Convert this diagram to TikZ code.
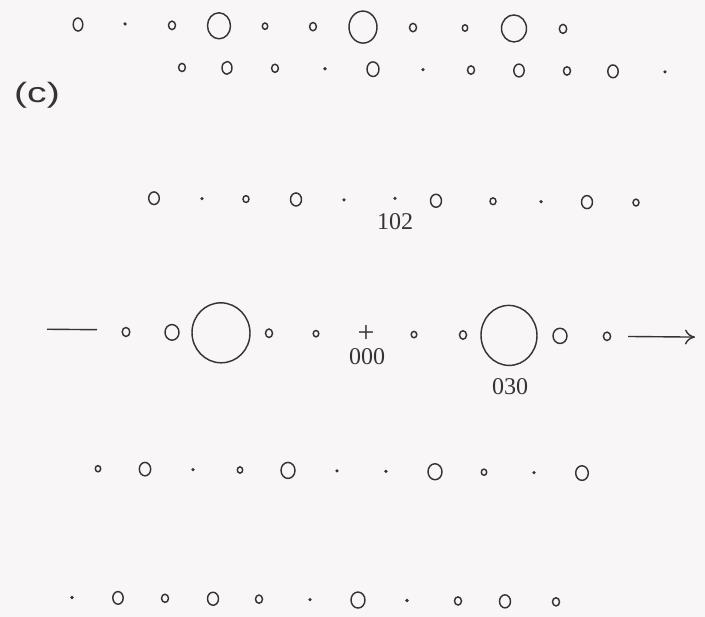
\documentclass[tikz,border=0pt]{standalone}
\usepackage{fontspec}
\usepackage{graphicx}
\setmainfont{Liberation Serif}
\newfontfamily\labsans{Liberation Sans}
\usetikzlibrary{arrows.meta}
\definecolor{ink}{RGB}{55,50,53}
\definecolor{paper}{RGB}{249,246,248}
\newcommand\spt[4]{\draw[spot] (#1,#2) ellipse [x radius=#3pt, y radius=#4pt];}
\newcommand\dotspot[2]{\fill[ink] (#1,#2) circle [radius=1.8pt];}
\begin{document}
\begin{tikzpicture}[x=1pt,y=-1pt,
  spot/.style={draw=ink,line width=1.45pt},
  lab/.style={inner sep=0pt,text=ink,font=\fontsize{24}{24}\selectfont},
  clab/.style={inner sep=0pt,text=ink,font=\labsans\fontsize{28}{28}\selectfont},
  conn/.style={draw=ink,line width=1.4pt}]
\fill[paper] (0,0) rectangle (705,617);
\useasboundingbox (0,0) rectangle (705,617);
\begin{scope}[yslant=-0.009,shift={(0,3.17pt)}]
% row 1
\spt{78}{27}{4.8}{6.5}
\dotspot{125}{26}
\spt{172}{27}{3.5}{4.2}
\spt{219}{27}{11.5}{13}
\spt{265}{27}{2.7}{3.2}
\spt{313}{27}{3.4}{4.1}
\spt{363}{27}{14}{16}
\spt{413}{27}{3.5}{4.2}
\spt{465}{27}{2.7}{3.2}
\spt{514}{27}{12.5}{13.5}
\spt{563}{27}{3.7}{4.5}
% row 2
\spt{182}{69}{3.4}{4.1}
\spt{227}{69}{5}{6.3}
\spt{275}{69}{3.4}{4.1}
\dotspot{325}{69}
\spt{373}{69}{6}{7.3}
\dotspot{423}{69}
\spt{471}{69}{3.5}{4.2}
\spt{519}{69}{5.2}{6.4}
\spt{567}{69}{3.5}{4.2}
\spt{613}{69}{5.2}{6.4}
\dotspot{665}{69}
% row 3
\spt{154}{200}{5.3}{6.3}
\dotspot{202}{200}
\spt{246}{200}{3}{3.4}
\spt{296}{200}{5.5}{6.5}
\dotspot{344}{200}
\dotspot{395}{198}
\spt{436}{200}{5.5}{6.5}
\spt{493}{200}{3}{3.4}
\dotspot{541}{200}
\spt{587}{200}{5.5}{6.5}
\spt{636}{200}{3}{3.4}
% row 4
\coordinate (L1) at (47,332);
\coordinate (L2) at (97,332);
\spt{126}{334}{3.8}{4.5}
\spt{172}{334}{7}{7.8}
\spt{221}{334}{29}{30}
\spt{269}{334}{3.5}{4.2}
\spt{316}{334}{2.8}{3.2}
\spt{414}{334}{2.8}{3.2}
\spt{463}{334}{3.5}{4.2}
\spt{509}{334}{28}{30}
\spt{560}{334}{7}{7.6}
\spt{607}{334}{3.6}{4.2}
\coordinate (A1) at (628,334);
\coordinate (A2) at (695,334);
\draw[conn] (L1) -- (L2);
\draw[conn,-{Computer Modern Rightarrow[length=10pt,width=15pt,line width=1.4pt]}] (A1) -- (A2);
% row 5
\spt{98}{471}{2.7}{3.1}
\spt{145}{471}{5.7}{6.7}
\dotspot{193}{471}
\spt{240}{471}{2.7}{3.1}
\spt{288}{471}{7}{8}
\dotspot{337}{471}
\dotspot{386}{471}
\spt{435}{471}{7}{8}
\spt{484}{471}{2.7}{3.1}
\dotspot{534}{471}
\spt{582}{471}{6.3}{7.3}
% row 6
\dotspot{72}{600}
\spt{118}{600}{5.2}{6.3}
\spt{165}{600}{3.5}{4.1}
\spt{213}{600}{5.5}{6.5}
\spt{259}{600}{3.5}{4.1}
\dotspot{310}{600}
\spt{358}{600}{7}{8}
\dotspot{407}{600}
\spt{458}{600}{3.5}{4.1}
\spt{505}{600}{5.5}{6.5}
\spt{556}{600}{3.5}{4.1}
\end{scope}
% labels
\node[clab] (panel) at (37,95) {\scalebox{1.4}[1]{(c)}};
\node[lab] (hkl102) at (395,222) {102};
\node[lab,font=\fontsize{30}{30}\selectfont] (origin) at (366,334) {+};
\node[lab] (hkl000) at (367,357) {000};
\node[lab] (hkl030) at (510,387) {030};
\end{tikzpicture}
\end{document}
